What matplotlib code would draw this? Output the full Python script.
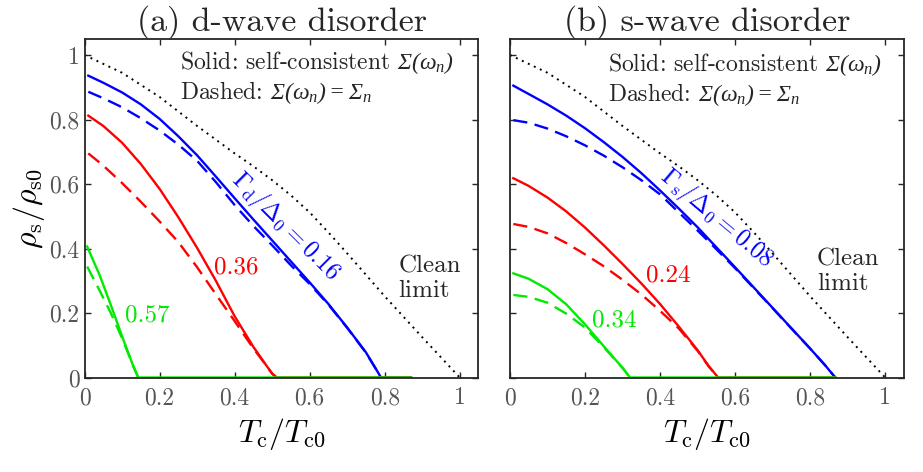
import matplotlib
matplotlib.use("Agg")
import matplotlib.pyplot as plt
from matplotlib.ticker import FuncFormatter

plt.rcParams['font.family'] = 'serif'
plt.rcParams['font.serif'] = ['cmr10']
plt.rcParams['mathtext.fontset'] = 'cm'
plt.rcParams['axes.unicode_minus'] = False
plt.rcParams['axes.formatter.use_mathtext'] = True
# italic capital Sigma for the two notes (used via math_fontfamily='custom')
plt.rcParams['mathtext.rm'] = 'Liberation Serif:italic'
plt.rcParams['mathtext.it'] = 'Liberation Serif:italic'

# clean limit (same in both panels)
clean_x = [0.0, 0.1, 0.2, 0.3, 0.4, 0.45, 0.5, 0.55, 0.6, 0.65, 0.7, 0.8, 0.9, 1.0]
clean_y = [1.0, 0.945, 0.87, 0.78, 0.695, 0.655, 0.612, 0.565, 0.512, 0.45, 0.385, 0.252,
           0.125, 0.0]

# (a) d-wave disorder, Gamma_d/Delta_0 = 0.16, 0.36, 0.57
d_blue_x = [0.01, 0.05, 0.1, 0.15, 0.2, 0.25, 0.3, 0.35, 0.4, 0.45, 0.5, 0.55, 0.6,
            0.65, 0.7, 0.75, 0.78, 0.79, 0.87]
d_blue_y = [0.936, 0.914, 0.884, 0.847, 0.802, 0.748, 0.689, 0.623, 0.556, 0.49, 0.425,
            0.36, 0.295, 0.228, 0.155, 0.078, 0.02, 0.0, 0.0]
d_blue_dx = [0.01, 0.05, 0.1, 0.15, 0.2, 0.25, 0.3, 0.35, 0.4, 0.45, 0.5, 0.55, 0.6,
             0.65, 0.7, 0.75, 0.78, 0.79]
d_blue_dy = [0.886, 0.866, 0.838, 0.804, 0.766, 0.722, 0.672, 0.606, 0.535, 0.47, 0.41,
             0.348, 0.29, 0.226, 0.154, 0.077, 0.02, 0.0]
d_red_x = [0.01, 0.05, 0.1, 0.15, 0.2, 0.25, 0.3, 0.35, 0.4, 0.45, 0.48, 0.5, 0.512, 0.87]
d_red_y = [0.812, 0.78, 0.728, 0.662, 0.585, 0.497, 0.402, 0.3, 0.19, 0.095, 0.045, 0.012,
           0.0, 0.0]
d_red_dx = [0.01, 0.05, 0.1, 0.15, 0.2, 0.25, 0.3, 0.35, 0.4, 0.45, 0.48, 0.5, 0.512]
d_red_dy = [0.695, 0.657, 0.603, 0.545, 0.484, 0.42, 0.342, 0.258, 0.175, 0.09, 0.044,
            0.012, 0.0]
d_green_x = [0.007, 0.04, 0.07, 0.1, 0.13, 0.143, 0.87]
d_green_y = [0.406, 0.318, 0.225, 0.128, 0.035, 0.0, 0.0]
d_green_dx = [0.007, 0.04, 0.07, 0.1, 0.13, 0.143]
d_green_dy = [0.344, 0.27, 0.2, 0.122, 0.035, 0.0]

# (b) s-wave disorder, Gamma_s/Delta_0 = 0.08, 0.24, 0.34
s_blue_x = [0.009, 0.05, 0.1, 0.15, 0.2, 0.25, 0.3, 0.35, 0.4, 0.45, 0.5, 0.55, 0.6,
            0.65, 0.7, 0.75, 0.8, 0.84, 0.867]
s_blue_y = [0.905, 0.879, 0.847, 0.812, 0.773, 0.73, 0.684, 0.634, 0.58, 0.524, 0.466,
            0.404, 0.342, 0.279, 0.216, 0.153, 0.09, 0.038, 0.0]
s_blue_dx = [0.009, 0.05, 0.1, 0.15, 0.2, 0.25, 0.3, 0.35, 0.4, 0.45, 0.5, 0.55, 0.6,
             0.65, 0.7, 0.75, 0.8, 0.84, 0.867]
s_blue_dy = [0.798, 0.79, 0.772, 0.748, 0.72, 0.688, 0.652, 0.612, 0.568, 0.512, 0.456,
             0.398, 0.339, 0.277, 0.215, 0.152, 0.09, 0.038, 0.0]
s_red_x = [0.009, 0.05, 0.1, 0.15, 0.2, 0.25, 0.3, 0.35, 0.4, 0.45, 0.5, 0.53, 0.555, 0.867]
s_red_y = [0.618, 0.594, 0.558, 0.515, 0.465, 0.41, 0.352, 0.292, 0.228, 0.158, 0.085,
           0.035, 0.0, 0.0]
s_red_dx = [0.009, 0.05, 0.1, 0.15, 0.2, 0.25, 0.3, 0.35, 0.4, 0.45, 0.5, 0.53, 0.555]
s_red_dy = [0.476, 0.467, 0.447, 0.417, 0.382, 0.345, 0.303, 0.258, 0.207, 0.152, 0.083,
            0.034, 0.0]
s_green_x = [0.009, 0.05, 0.1, 0.15, 0.2, 0.25, 0.3, 0.32, 0.867]
s_green_y = [0.323, 0.306, 0.274, 0.227, 0.165, 0.097, 0.03, 0.0, 0.0]
s_green_dx = [0.009, 0.05, 0.1, 0.15, 0.2, 0.25, 0.3, 0.32]
s_green_dy = [0.256, 0.25, 0.232, 0.198, 0.155, 0.094, 0.03, 0.0]

blue = (0, 0, 1)
red = (1, 0, 0)
green = (0, 0.92, 0)
dash = (0, (6, 3.2))
dot = (0, (1, 2.4))
axcol = '#262626'
ticklab = '#555555'

fig = plt.figure(figsize=(9.23, 4.72), dpi=100)
ax1 = fig.add_axes([0.0916, 0.2002, 0.4268, 0.7174])
ax2 = fig.add_axes([0.5525, 0.2002, 0.4268, 0.7174])


def style(ax, ylabels=True):
    ax.set_xlim(0, 1.05)
    ax.set_ylim(0, 1.05)
    ax.set_xticks([0, 0.2, 0.4, 0.6, 0.8, 1])
    ax.set_yticks([0, 0.2, 0.4, 0.6, 0.8, 1])
    fmt = FuncFormatter(lambda v, p: '%g' % v)
    ax.xaxis.set_major_formatter(fmt)
    ax.yaxis.set_major_formatter(fmt)
    ax.tick_params(direction='in', top=True, right=True, length=4, width=1,
                   color=axcol, labelsize=17, labelcolor=ticklab)
    ax.tick_params(axis='x', pad=7)
    ax.tick_params(axis='y', pad=3.5)
    if not ylabels:
        ax.tick_params(labelleft=False)
    for s in ax.spines.values():
        s.set_color(axcol)
        s.set_linewidth(1.3)
    ax.set_xlabel(r'$T_\mathrm{c}/T_\mathrm{c0}$', fontsize=23, labelpad=5)


def curves(ax, data):
    for xs, ys, xd, yd, c in data:
        ax.plot(xd, yd, color=c, lw=1.7, linestyle=dash)
        ax.plot(xs, ys, color=c, lw=1.7)
    ax.plot(clean_x, clean_y, color='k', lw=1.4, linestyle=dot)


curves(ax1, [(d_blue_x, d_blue_y, d_blue_dx, d_blue_dy, blue),
             (d_red_x, d_red_y, d_red_dx, d_red_dy, red),
             (d_green_x, d_green_y, d_green_dx, d_green_dy, green)])
curves(ax2, [(s_blue_x, s_blue_y, s_blue_dx, s_blue_dy, blue),
             (s_red_x, s_red_y, s_red_dx, s_red_dy, red),
             (s_green_x, s_green_y, s_green_dx, s_green_dy, green)])

style(ax1)
style(ax2, ylabels=False)
ax1.set_ylabel(r'$\rho_\mathrm{s}/\rho_\mathrm{s0}$', fontsize=23, labelpad=2)

ax1.set_title('(a) d-wave disorder', fontsize=24.5, color=axcol, pad=6)
ax2.set_title('(b) s-wave disorder', fontsize=24.5, color=axcol, pad=6)

sol = r'Solid: self-consistent $\Sigma(\omega_n)$'
das = r'Dashed: $\Sigma(\omega_n) = \Sigma_n$'
for ax, x0, y0, y1 in [(ax1, 0.255, 0.978, 0.885), (ax2, 0.261, 0.969, 0.876)]:
    ax.text(x0, y0, sol, fontsize=17, color=axcol, ha='left', va='center',
            math_fontfamily='custom')
    ax.text(x0, y1, das, fontsize=17, color=axcol, ha='left', va='center',
            math_fontfamily='custom')

ax1.text(0.836, 0.307, 'Clean\nlimit', fontsize=18, color=axcol, ha='left',
         va='center', linespacing=1.15)
ax2.text(0.818, 0.329, 'Clean\nlimit', fontsize=18, color=axcol, ha='left',
         va='center', linespacing=1.15)

ax1.text(0.535, 0.470, r'$\Gamma_\mathrm{d}/\Delta_0 = 0.16$', fontsize=17.5,
         color=blue, rotation=-45, ha='center', va='center', rotation_mode='anchor')
ax2.text(0.552, 0.495, r'$\Gamma_\mathrm{s}/\Delta_0 = 0.08$', fontsize=17.5,
         color=blue, rotation=-40, ha='center', va='center', rotation_mode='anchor')

ax1.text(0.404, 0.342, '0.36', fontsize=18, color=red, ha='center', va='center')
ax1.text(0.167, 0.191, '0.57', fontsize=18, color=green, ha='center', va='center')
ax2.text(0.421, 0.315, '0.24', fontsize=18, color=red, ha='center', va='center')
ax2.text(0.277, 0.178, '0.34', fontsize=18, color=green, ha='center', va='center')

fig.savefig('out.png', dpi=100)
